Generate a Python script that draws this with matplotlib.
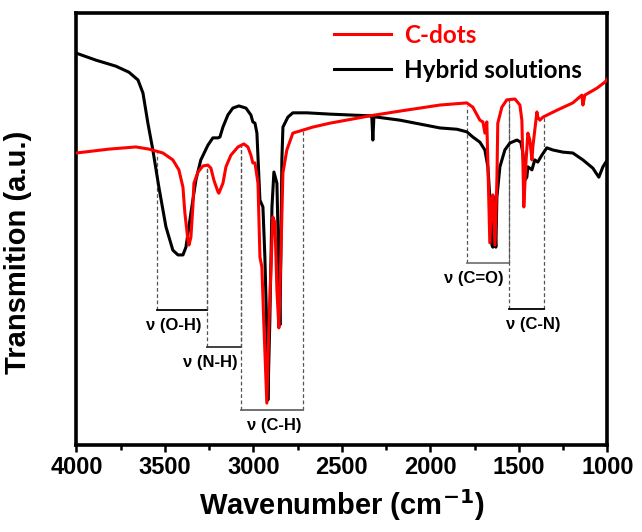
import matplotlib
matplotlib.use("Agg")
import matplotlib.pyplot as plt
from matplotlib.ticker import MultipleLocator

# ---------------- data ----------------
hybrid_wn = [4000, 3890, 3777, 3703, 3652, 3624, 3596, 3568, 3534, 3494, 3455, 3426, 3398, 3381,
             3353, 3325, 3297, 3257, 3229, 3200, 3189, 3172, 3144, 3116, 3082, 3042, 3014, 3003,
             2991, 2980, 2974, 2963, 2946, 2935, 2924, 2918, 2907, 2895, 2884, 2867, 2861, 2850,
             2845, 2839, 2833, 2805, 2777, 2698, 2568, 2455, 2336, 2331, 2325, 2319, 2172, 2059,
             1946, 1850, 1794, 1760, 1720, 1692, 1675, 1664, 1652, 1647, 1641, 1630, 1624, 1607,
             1579, 1551, 1511, 1489, 1477, 1466, 1455, 1449, 1426, 1410, 1393, 1370, 1342, 1308,
             1251, 1195, 1138, 1082, 1048, 1025, 1000]
hybrid_t = [90.7, 89.1, 87.7, 86.3, 84.5, 81.5, 74.5, 68.3, 59.7, 50.5, 45.1, 44.0, 44.0, 45.8,
            53.7, 61.3, 66.0, 69.4, 71.1, 71.1, 71.3, 73.6, 76.4, 78.0, 78.5, 78.0, 76.4, 74.8,
            74.5, 72.2, 66.7, 56.7, 55.1, 43.5, 26.6, 10.4, 28.9, 55.1, 63.2, 60.6, 49.8, 27.8,
            42.8, 66.0, 73.6, 75.9, 76.9, 76.9, 76.6, 76.4, 76.2, 76.2, 70.6, 76.0, 75.2, 74.3,
            73.4, 73.1, 72.5, 71.3, 70.1, 68.3, 64.4, 57.4, 46.3, 45.8, 57.4, 45.8, 57.4, 64.4,
            68.3, 69.9, 70.6, 70.1, 67.6, 61.3, 62.0, 64.4, 63.7, 66.0, 65.5, 67.1, 68.8, 68.3,
            67.8, 67.6, 66.0, 64.1, 62.0, 64.4, 66.0]

cdots_wn = [4000, 3816, 3664, 3590, 3511, 3455, 3421, 3398, 3387, 3370, 3364, 3353, 3342, 3336,
            3313, 3285, 3257, 3240, 3223, 3200, 3195, 3172, 3155, 3127, 3087, 3054, 3031, 3014,
            3003, 2991, 2974, 2963, 2952, 2941, 2924, 2912, 2890, 2878, 2867, 2856, 2845, 2833,
            2811, 2777, 2720, 2664, 2568, 2342, 2172, 1946, 1794, 1760, 1720, 1703, 1692, 1681,
            1675, 1664, 1652, 1647, 1635, 1624, 1619, 1596, 1568, 1522, 1494, 1483, 1477, 1472,
            1460, 1449, 1438, 1426, 1421, 1398, 1393, 1381, 1364, 1285, 1195, 1144, 1138, 1127,
            1059, 1014, 1000]
cdots_t = [67.6, 68.5, 69.0, 68.5, 67.6, 66.0, 63.7, 59.7, 53.7, 47.5, 46.3, 48.1, 55.1, 60.6,
           63.2, 64.6, 64.8, 64.1, 61.3, 58.6, 58.3, 60.6, 64.4, 67.1, 69.0, 69.7, 69.0, 67.1,
           65.3, 65.3, 60.6, 43.5, 41.2, 28.2, 9.7, 28.2, 52.8, 51.4, 35.9, 27.1, 43.5, 63.0,
           68.3, 72.2, 72.9, 73.6, 74.5, 76.2, 77.3, 78.7, 79.2, 78.2, 75.2, 74.8, 72.2, 74.8,
           65.3, 46.8, 57.4, 57.9, 46.3, 61.3, 74.5, 78.2, 79.9, 80.1, 78.7, 75.2, 65.3, 55.1,
           65.3, 72.2, 70.6, 66.0, 69.0, 77.1, 75.9, 75.2, 75.9, 77.5, 79.2, 81.0, 78.7, 81.0,
           82.6, 84.0, 84.7]

series_labels = ["C-dots", "Hybrid solutions"]
series_colors = ["#ff0000", "#000000"]

# band brackets: label, left wn, right wn, top of left dash, top of right dash, bracket level
band_labels = ["ν (O-H)", "ν (N-H)", "ν (C-H)", "ν (C=O)", "ν (C-N)"]
band_left = [3545, 3263, 3071, 1794, 1556]
band_right = [3263, 3071, 2720, 1556, 1359]
band_top_left = [67.6, 64.8, 69.3, 78.5, 79.9]
band_top_right = [64.8, 69.3, 72.9, 79.9, 75.9]
band_level = [31.2, 22.7, 8.1, 42.1, 31.5]
band_label_x = [3448, 3246, 2884, 1754, 1421]
band_colors = ["#000000", "#333333", "#666666", "#777777", "#000000"]

x_ticks = [4000, 3500, 3000, 2500, 2000, 1500, 1000]

# ---------------- figure ----------------
plt.rcParams['font.family'] = ['Liberation Sans', 'DejaVu Sans']
fig = plt.figure(figsize=(6.42, 5.32), dpi=100)
ax = fig.add_axes([0.119, 0.1635, 0.827, 0.812])

ax.plot(cdots_wn, cdots_t, color=series_colors[0], lw=2.2, label=series_labels[0], zorder=3)
ax.plot(hybrid_wn, hybrid_t, color=series_colors[1], lw=2.2, label=series_labels[1], zorder=2)

for lab, l, r, tl, tr, lev, lx, c in zip(band_labels, band_left, band_right, band_top_left,
                                         band_top_right, band_level, band_label_x, band_colors):
    ax.plot([l, l], [lev, tl], color="#555555", lw=0.9, ls=(0, (3, 2)), zorder=1)
    ax.plot([r, r], [lev, tr], color="#555555", lw=0.9, ls=(0, (3, 2)), zorder=1)
    ax.plot([l, r], [lev, lev], color=c, lw=1.3, zorder=1)
    ax.text(lx, lev - 3.5, lab, ha="center", va="center", fontsize=12, fontweight="bold",
            family=['Liberation Sans Narrow', 'Liberation Sans', 'DejaVu Sans'])

ax.set_xlim(4000, 1000)
ax.set_ylim(0, 100)
ax.set_xticks(x_ticks)
ax.set_xticklabels([str(t) for t in x_ticks], fontsize=17, fontweight="bold")
ax.xaxis.set_minor_locator(MultipleLocator(250))
ax.set_yticks([])
ax.tick_params(axis="x", which="major", direction="out", length=5, width=1.8, pad=3)
ax.tick_params(axis="x", which="minor", direction="out", length=3.5, width=1.8)
for s in ax.spines.values():
    s.set_linewidth(2.6)

ax.set_xlabel("Wavenumber (cm$^{\\mathbf{-1}}$)", fontsize=21, fontweight="bold", labelpad=6)
ax.set_ylabel("Transmition (a.u.)", fontsize=21, fontweight="bold")
ax.yaxis.set_label_coords(-0.083, 0.447)

leg = ax.legend(loc="upper left", bbox_to_anchor=(0.485, 0.975), frameon=False,
                borderpad=0, borderaxespad=0, handlelength=2.35, handletextpad=0.55,
                labelspacing=0.5, prop={'family': 'Lato', 'weight': 'bold', 'size': 17.5})
for t, c in zip(leg.get_texts(), series_colors):
    t.set_color(c)

fig.savefig("out.png", dpi=100)
